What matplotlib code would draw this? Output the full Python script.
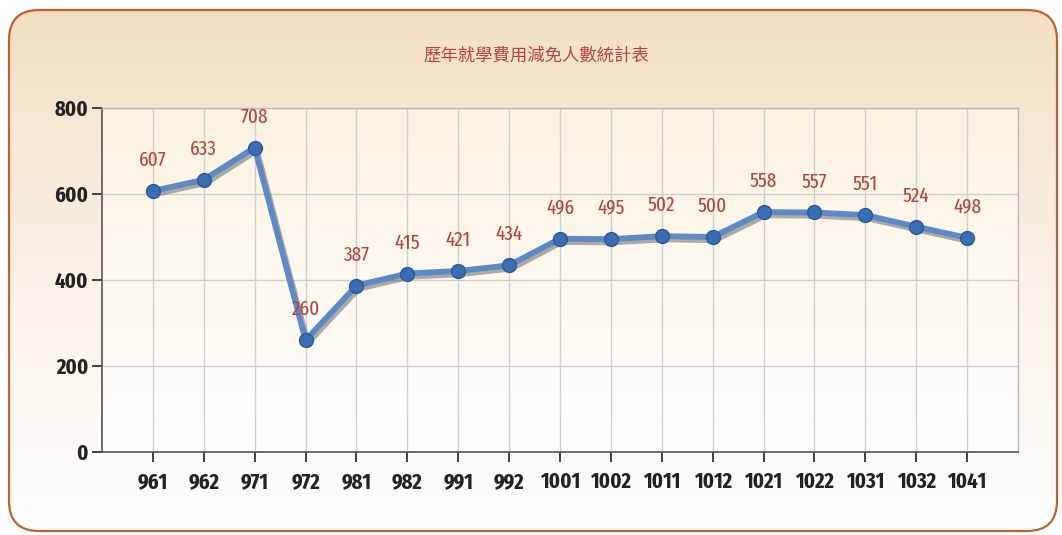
import numpy as np
import matplotlib
matplotlib.use("Agg")
import matplotlib.pyplot as plt
from matplotlib.patches import FancyBboxPatch
import matplotlib.transforms as mtrans

categories = ["961", "962", "971", "972", "981", "982", "991", "992", "1001",
              "1002", "1011", "1012", "1021", "1022", "1031", "1032", "1041"]
values = [607, 633, 708, 260, 387, 415, 421, 434, 496, 495, 502, 500,
          558, 557, 551, 524, 498]
yticks = [0, 200, 400, 600, 800]
title = "歷年就學費用減免人數統計表"

narrow = ["Fira Sans Extra Condensed", "Roboto Condensed", "DejaVu Sans"]

W, H = 1062, 535
fig = plt.figure(figsize=(W / 100, H / 100), dpi=100)
fig.patch.set_facecolor("white")

bg = fig.add_axes([0, 0, 1, 1])
bg.set_xlim(0, W)
bg.set_ylim(H, 0)
bg.axis("off")
box = FancyBboxPatch((9, 10), W - 14, H - 14, boxstyle="round,pad=0,rounding_size=30",
                     facecolor="none", edgecolor="#c0622e", linewidth=1.6, zorder=3)
bg.add_patch(box)
grad = np.linspace(0, 1, 256).reshape(-1, 1)
c_top = np.array([0.95, 0.87, 0.75])
t = np.clip(grad ** 0.8, 0, 1)
img = c_top * (1 - t)[..., None] + np.array([1.0, 1.0, 1.0]) * t[..., None]
im = bg.imshow(img.reshape(256, 1, 3), extent=(9, W - 5, H - 4, 10), aspect="auto", zorder=1)
im.set_clip_path(box)

fig.text(536 / W, 1 - 56 / H, title, ha="center", va="center", fontsize=12.5,
         color="#b5443f", family=["Noto Sans CJK TC", "DejaVu Sans"])

left, right, top, bottom = 102, 1018, 108, 452
ax = fig.add_axes([left / W, 1 - bottom / H, (right - left) / W, (bottom - top) / H])
ax.set_xlim(-1, len(categories))
ax.set_ylim(0, 800)
pg = np.linspace(0, 1, 256).reshape(-1, 1)
p_top = np.array([0.99, 0.955, 0.88])
pimg = p_top * (1 - pg)[..., None] + np.array([1, 1, 1]) * pg[..., None]
ax.imshow(pimg.reshape(256, 1, 3), extent=(-1, len(categories), 0, 800),
          aspect="auto", zorder=0)

x = np.arange(len(categories))
ax.set_xticks(x)
ax.set_xticklabels(categories)
ax.set_yticks(yticks)
ax.grid(True, color="#cfcfcf", linewidth=1.0, zorder=1)
ax.set_axisbelow(True)

for s in ["top", "right"]:
    ax.spines[s].set_color("#b8b8b8")
    ax.spines[s].set_linewidth(1.0)
for s in ["left", "bottom"]:
    ax.spines[s].set_color("#555555")
    ax.spines[s].set_linewidth(1.2)

ax.tick_params(axis="both", direction="out", length=7, width=1.3, color="#333333",
               labelsize=16, labelcolor="#222222", pad=3)
for lab in ax.get_xticklabels() + ax.get_yticklabels():
    lab.set_fontweight("bold")
    lab.set_family(narrow)
ax.tick_params(axis="x", pad=7)

shadow = ax.transData + mtrans.ScaledTranslation(2 / 100, -3 / 100, fig.dpi_scale_trans)
ax.plot(x, values, color="#4a4a4a", linewidth=4.5, alpha=0.45, zorder=3, transform=shadow)
ax.plot(x, values, color="#5b8ac6", linewidth=4.2, marker="o", markersize=10,
        markerfacecolor="#3a6db3", markeredgecolor="#2d5a97", markeredgewidth=1,
        zorder=4, solid_capstyle="round")

for xi, v in zip(x, values):
    ax.annotate(str(v), (xi, v), xytext=(0, 15), textcoords="offset points",
                ha="center", va="bottom", fontsize=15, color="#b5443f",
                family=narrow, zorder=5)

fig.savefig("out.png", dpi=100)
